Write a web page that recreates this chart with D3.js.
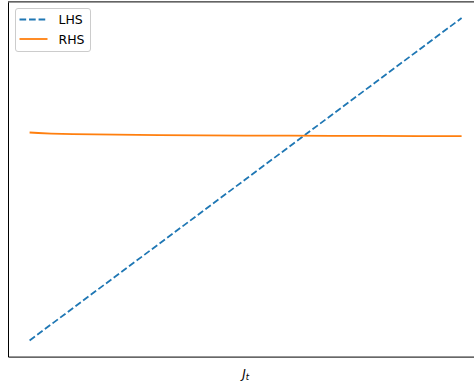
<!DOCTYPE html>
<html>
<head>
<meta charset="utf-8">
<script src="https://cdn.jsdelivr.net/npm/d3@7"></script>
<style>
  html, body { margin: 0; padding: 0; background: #fff; }
  svg { display: block; }
  text { font-family: "DejaVu Sans", sans-serif; }
</style>
</head>
<body>
<svg id="chart" width="474" height="385"></svg>
<script>
// Grid of J_t values and the two sides of the equation evaluated on it
const jGrid = [0, 0.02, 0.05, 0.1, 0.2, 0.3, 0.4, 0.5, 0.6, 0.7, 0.8, 0.9, 1.0];
const lhsValues = [0, 0.02, 0.05, 0.1, 0.2, 0.3, 0.4, 0.5, 0.6, 0.7, 0.8, 0.9, 1.0];
const rhsValues = [0.645, 0.6435, 0.6418, 0.6400, 0.6382, 0.6371, 0.6362, 0.6355, 0.6350, 0.6346, 0.6343, 0.6340, 0.6338];
const seriesNames = ["LHS", "RHS"];
const seriesColors = ["#1f77b4", "#ff7f0e"];

const svg = d3.select("#chart");
const plot = { left: 8, right: 483.2, top: 1.9, bottom: 356.6 };
const lineW = 1.8;
const dash = `${(3.7 * lineW).toFixed(2)},${(1.6 * lineW).toFixed(2)}`;

// matplotlib-style 5% margins around the data range
const pad = (lo, hi) => { const d = hi - lo; return [lo - 0.05 * d, hi + 0.05 * d]; };
const allY = lhsValues.concat(rhsValues);
const x = d3.scaleLinear().domain(pad(d3.min(jGrid), d3.max(jGrid))).range([plot.left, plot.right]);
const y = d3.scaleLinear().domain(pad(d3.min(allY), d3.max(allY))).range([plot.bottom, plot.top]);

svg.append("defs").append("clipPath").attr("id", "plot-clip")
  .append("rect")
  .attr("x", plot.left).attr("y", plot.top)
  .attr("width", plot.right - plot.left).attr("height", plot.bottom - plot.top);

const line = d3.line().x((d, i) => x(jGrid[i])).y(d => y(d));

const g = svg.append("g").attr("clip-path", "url(#plot-clip)");
g.append("path").datum(lhsValues)
  .attr("d", line).attr("fill", "none")
  .attr("stroke", seriesColors[0]).attr("stroke-width", lineW)
  .attr("stroke-dasharray", dash);
g.append("path").datum(rhsValues)
  .attr("d", line).attr("fill", "none")
  .attr("stroke", seriesColors[1]).attr("stroke-width", lineW);

// Axes frame (no tick marks)
const spineW = 1;
const xAxis = d3.axisBottom(x).tickValues([]).tickSizeOuter(0);
const yAxis = d3.axisLeft(y).tickValues([]).tickSizeOuter(0);
svg.append("g").attr("transform", `translate(0,${plot.bottom})`).call(xAxis)
  .select(".domain").attr("stroke", "#000").attr("stroke-width", spineW);
svg.append("g").attr("transform", `translate(${plot.left},0)`).call(yAxis)
  .select(".domain").attr("stroke", "#000").attr("stroke-width", spineW);
svg.append("line")
  .attr("x1", plot.left).attr("x2", plot.right)
  .attr("y1", plot.top).attr("y2", plot.top)
  .attr("stroke", "#000").attr("stroke-width", spineW);
svg.append("line")
  .attr("x1", plot.right).attr("x2", plot.right)
  .attr("y1", plot.top).attr("y2", plot.bottom)
  .attr("stroke", "#000").attr("stroke-width", spineW);

// x-axis label J_t
const xl = svg.append("text")
  .attr("x", (plot.left + plot.right) / 2).attr("y", 378)
  .attr("text-anchor", "middle").attr("font-size", 12);
xl.append("tspan").attr("font-style", "italic").text("J");
xl.append("tspan").attr("font-style", "italic").attr("font-size", 8.5).attr("dy", 1.8).text("t");

// Legend
const legend = svg.append("g").attr("transform", "translate(15,8)");
legend.append("rect")
  .attr("x", 0.5).attr("y", 0.5).attr("width", 75).attr("height", 43)
  .attr("rx", 2.5).attr("fill", "#fff").attr("fill-opacity", 0.8)
  .attr("stroke", "#ccc").attr("stroke-width", 1);
seriesNames.forEach((name, i) => {
  const yy = 11.5 + i * 19.5;
  legend.append("line")
    .attr("x1", 4.5).attr("x2", 32.5).attr("y1", yy).attr("y2", yy)
    .attr("stroke", seriesColors[i]).attr("stroke-width", lineW)
    .attr("stroke-dasharray", i === 0 ? dash : null);
  legend.append("text")
    .attr("x", 43.5).attr("y", yy + 4.6)
    .attr("font-size", 12.5).attr("fill", "#000").text(name);
});
</script>
</body>
</html>
